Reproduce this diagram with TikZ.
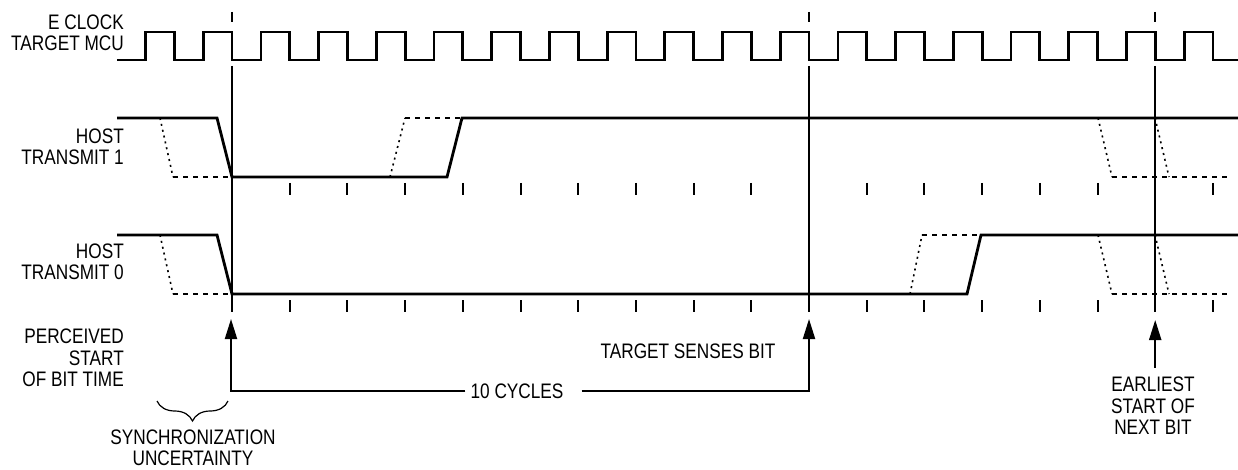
\documentclass[tikz,border=0pt]{standalone}
\usepackage{fontspec}
\setmainfont{Liberation Sans}[FakeStretch=0.82]
\usetikzlibrary{arrows.meta, decorations.pathreplacing}

\begin{document}
\begin{tikzpicture}[x=1pt, y=-1pt, >={Triangle[length=20pt,width=12pt]},
    sig/.style={line width=2.8pt},
    dsh/.style={line width=2.6pt, dash pattern=on 5pt off 5pt},
    dt/.style={line width=1.6pt, dash pattern=on 2pt off 4pt},
    tk/.style={line width=2pt},
    lbl/.style={font=\fontsize{21}{21.5}\selectfont, inner sep=0pt, align=right}]
  \useasboundingbox (0,0) rectangle (1238,470);
  \def\p{57.7}
  % labels
  \node[lbl, anchor=east] (clk) at (124,33) {E CLOCK\\TARGET MCU};
  \node[lbl, anchor=east] (tx1) at (124,147) {HOST\\TRANSMIT 1};
  \node[lbl, anchor=east] (tx0) at (124,262) {HOST\\TRANSMIT 0};
  \node[lbl, anchor=east] (pst) at (124,358) {PERCEIVED\\START\\OF BIT TIME};
  \node[lbl, align=center] (syn) at (193,448) {SYNCHRONIZATION\\UNCERTAINTY};
  \node[lbl] (tsb) at (688,351) {TARGET SENSES BIT};
  \node[lbl] (cyc) at (517,391) {10 CYCLES};
  \node[lbl, align=center] (nb) at (1153,406) {EARLIEST\\START OF\\NEXT BIT};
  % clock
  \draw[sig] (117,60) \foreach \k in {0,...,18}{
      -- ({145.5+\k*\p},60) -- ({145.5+\k*\p},32)
      -- ({174.35+\k*\p},32) -- ({174.35+\k*\p},60)} -- (1238,60);
  % ticks and bit lines
  \foreach \k in {1,...,17}{
    \draw[tk] ({232+\k*\p},183) -- ++(0,12);
    \draw[tk] ({232+\k*\p},300) -- ++(0,12);
  }
  \foreach \x in {232, 232+10*\p, 232+16*\p}{
    \draw[tk] ({\x},12) -- ({\x},22);
    \draw[tk] ({\x},66) -- ({\x},312);
  }
  % host transmit 1
  \draw[sig] (117,118) -- (217,118) -- (232,177) -- (447,177) -- (462,118) -- (1238,118);
  \draw[dt] (160,118) -- (173,177);
  \draw[dsh] (173,177) -- (232,177);
  \draw[dt] (390,177) -- (405,118);
  \draw[dsh] (405,118) -- (462,118);
  \draw[dt] (1098,118) -- (1112,177);
  \draw[dt] (1155,118) -- (1169,177);
  \draw[dsh] (1112,177) -- (1230,177);
  % host transmit 0
  \draw[sig] (117,235) -- (217,235) -- (232,294) -- (967,294) -- (981,235) -- (1238,235);
  \draw[dt] (160,235) -- (173,294);
  \draw[dsh] (173,294) -- (232,294);
  \draw[dt] (910,294) -- (922,235);
  \draw[dsh] (922,235) -- (981,235);
  \draw[dt] (1098,235) -- (1112,294);
  \draw[dt] (1155,235) -- (1169,294);
  \draw[dsh] (1112,294) -- (1230,294);
  % arrows
  \coordinate (sbt) at (231,319);
  \coordinate (tst) at ({232+10*\p},319);
  \coordinate (nbt) at ({232+16*\p},320);
  \draw[tk, ->] ([xshift=-5pt]cyc.west) -| (sbt);
  \draw[tk, ->] ([xshift=18pt]cyc.east) -| (tst);
  \draw[tk, ->] ([yshift=9pt]nbt |- nb.north) -- (nbt);
  \draw[decorate, decoration={brace, mirror, amplitude=20pt}, line width=1.2pt]
    (157,401) -- (228,401);
\end{tikzpicture}
\end{document}
